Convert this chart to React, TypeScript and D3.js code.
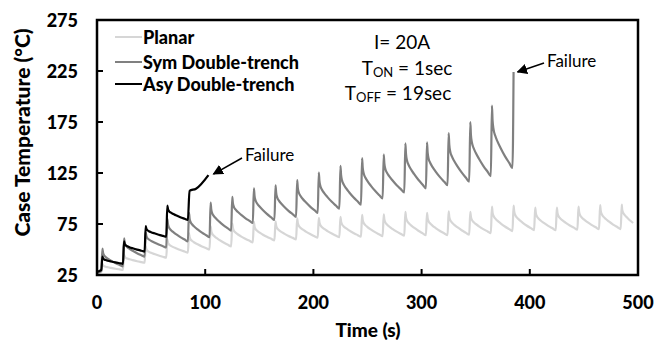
import React from "react";
import * as d3 from "d3";

// Canvas and plot frame
const W = 654;
const H = 341;
const plot = { left: 97, right: 638, top: 20, bottom: 275 };

// Axes
const xTicks = [0, 100, 200, 300, 400, 500];
const yTicks = [25, 75, 125, 175, 225, 275];

// Pulse timing (s): first pulse and repetition period (TON + TOFF)
const firstPulse = 5;
const pulsePeriod = 20;

// Shape of one cooling stretch: seconds after the peak, and share of the
// peak-to-trough excess still left at that moment
const decayOffsets = [0, 0.6, 1.5, 3, 5, 8, 12, 16, 19];
const decayShare = [1, 0.76, 0.62, 0.52, 0.43, 0.32, 0.19, 0.08, 0];

// Planar: peak per pulse, trough before the next pulse, and the last sample
const planarStart = [27, 28];
const planarPeaks = [36, 45, 53, 60, 66, 73, 75.5, 77, 77.5, 80.5, 81, 82, 84, 84.5, 87, 86, 87.5, 87, 92, 93, 91, 91, 92, 93.5, 94];
const planarTroughs = [30, 37, 42, 47, 50, 53, 57, 59, 60, 61.5, 62, 62.5, 63, 63.5, 64, 64, 64.5, 66, 68, 69, 69, 69.5, 70, 70];
const planarEnd = [495.5, 76];

// Symmetric double-trench: fails on its last pulse
const symStart = [27, 29];
const symPeaks = [51, 61, 67, 80, 86, 96, 101.5, 110, 113, 118, 125.5, 132, 139.5, 143, 154, 155, 164, 175, 191, 224];
const symTroughs = [33.5, 43, 52, 58, 62, 68.5, 76, 79, 82, 86, 90, 94, 100, 106, 110, 113, 116.5, 122, 130];

// Asymmetric double-trench: four normal pulses, then the failure run-away
const asyStart = [28, 30];
const asyPeaks = [43, 58, 73, 93];
const asyTroughs = [36, 48, 62.5, 79];
const asyFailureTimes = [85.5, 91.5, 103];
const asyFailureTemps = [107.5, 109.6, 123];

type Pt = [number, number];

function buildSeries(start: number[], peaks: number[], troughs: number[]): Pt[] {
  const pts: Pt[] = [[0, start[0]], [firstPulse - 1, start[1]]];
  peaks.forEach((peak, i) => {
    const tp = firstPulse + i * pulsePeriod;
    pts.push([tp, peak]);
    if (i < troughs.length) {
      const low = troughs[i];
      decayOffsets.forEach((off, j) => {
        if (j === 0) return;
        pts.push([tp + off, low + (peak - low) * decayShare[j]]);
      });
    }
  });
  return pts;
}

const planarPts: Pt[] = (() => {
  const pts = buildSeries(planarStart, planarPeaks, planarTroughs);
  const lastPeak = planarPeaks[planarPeaks.length - 1];
  const tp = firstPulse + (planarPeaks.length - 1) * pulsePeriod;
  const span = planarEnd[0] - tp;
  decayOffsets.forEach((off, j) => {
    if (j === 0) return;
    pts.push([tp + (off / 19) * span, planarEnd[1] + (lastPeak - planarEnd[1]) * decayShare[j]]);
  });
  return pts;
})();

const symPts: Pt[] = buildSeries(symStart, symPeaks, symTroughs);

const asyPts: Pt[] = (() => {
  const pts = buildSeries(asyStart, asyPeaks, asyTroughs);
  asyFailureTimes.forEach((t, i) => pts.push([t, asyFailureTemps[i]]));
  return pts;
})();

const seriesNames = ["Planar", "Sym Double-trench", "Asy Double-trench"];
const seriesColors = ["#d6d6d6", "#808080", "#000000"];

export default function App() {
  const x = d3.scaleLinear().domain([0, 500]).range([plot.left, plot.right]);
  const y = d3.scaleLinear().domain([25, 275]).range([plot.bottom, plot.top]);
  const line = d3
    .line<Pt>()
    .x((d) => x(d[0]))
    .y((d) => y(d[1]))
    .curve(d3.curveMonotoneX);

  const allPts = [planarPts, symPts, asyPts];
  const fontStack = "Lato, 'Open Sans', sans-serif";

  const symFail: Pt = [firstPulse + (symPeaks.length - 1) * pulsePeriod, symPeaks[symPeaks.length - 1]];
  const asyFail: Pt = [asyFailureTimes[asyFailureTimes.length - 1], asyFailureTemps[asyFailureTemps.length - 1]];

  return (
    <svg
      width={W}
      height={H}
      style={{ position: "absolute", left: 0, top: 0, background: "#fff" }}
      fontFamily={fontStack}
    >
      <defs>
        <marker id="arrowHead" viewBox="0 0 10 10" refX="9" refY="5" markerWidth="7" markerHeight="7" orient="auto">
          <path d="M0,0 L10,5 L0,10 Z" fill="#000" />
        </marker>
      </defs>
      <rect x={0} y={0} width={W} height={H} fill="#fff" />

      {/* series */}
      {allPts.map((pts, i) => (
        <path key={i} d={line(pts) || ""} fill="none" stroke={seriesColors[i]} strokeWidth={2.2} strokeLinejoin="round" />
      ))}

      {/* frame */}
      <rect
        x={plot.left}
        y={plot.top}
        width={plot.right - plot.left}
        height={plot.bottom - plot.top}
        fill="none"
        stroke="#000"
        strokeWidth={2.5}
      />

      {/* x ticks (inward) and labels */}
      {xTicks.map((t) => (
        <g key={"x" + t}>
          {t > 0 && t < 500 && <line x1={x(t)} x2={x(t)} y1={plot.bottom} y2={plot.bottom - 6} stroke="#000" strokeWidth={2} />}
          <text x={x(t)} y={302} textAnchor="middle" dominantBaseline="central" fontSize={18} fontWeight={900}>
            {t}
          </text>
        </g>
      ))}

      {/* y ticks (inward) and labels */}
      {yTicks.map((t) => (
        <g key={"y" + t}>
          {t > 25 && t < 275 && <line x1={plot.left} x2={plot.left + 6} y1={y(t)} y2={y(t)} stroke="#000" strokeWidth={2} />}
          <text x={78} y={y(t)} textAnchor="end" dominantBaseline="central" fontSize={18} fontWeight={900}>
            {t}
          </text>
        </g>
      ))}

      {/* axis titles */}
      <text x={368} y={329} textAnchor="middle" dominantBaseline="central" fontSize={19} fontWeight={900}>
        Time (s)
      </text>
      <text
        transform={`translate(21,${(plot.top + plot.bottom) / 2 - 15}) rotate(-90)`}
        textAnchor="middle"
        dominantBaseline="central"
        fontSize={21}
        fontWeight={900}
      >
        Case Temperature (°C)
      </text>

      {/* legend */}
      {seriesNames.map((name, i) => {
        const ly = [37, 62, 84][i];
        return (
          <g key={name}>
            <line x1={115} x2={142} y1={ly} y2={ly} stroke={seriesColors[i]} strokeWidth={2} />
            <text x={143} y={ly} dominantBaseline="central" fontSize={18} fontWeight={900}>
              {name}
            </text>
          </g>
        );
      })}

      {/* test conditions */}
      <g fontSize={19} textAnchor="middle">
        <text x={402} y={41} dominantBaseline="central">I= 20A</text>
        <text x={407} y={67} dominantBaseline="central">
          T<tspan fontSize={13} dy={5}>ON</tspan>
          <tspan dy={-5}> = 1sec</tspan>
        </text>
        <text x={398} y={92} dominantBaseline="central">
          T<tspan fontSize={13} dy={5}>OFF</tspan>
          <tspan dy={-5}> = 19sec</tspan>
        </text>
      </g>

      {/* failure callouts */}
      <text x={245} y={154} dominantBaseline="central" fontSize={17}>
        Failure
      </text>
      <line
        x1={242}
        y1={158}
        x2={x(asyFail[0]) + 5}
        y2={y(asyFail[1]) - 1}
        stroke="#000"
        strokeWidth={1.5}
        markerEnd="url(#arrowHead)"
      />
      <text x={547} y={60} dominantBaseline="central" fontSize={17}>
        Failure
      </text>
      <line
        x1={544}
        y1={63}
        x2={x(symFail[0]) + 4}
        y2={y(symFail[1])}
        stroke="#000"
        strokeWidth={1.5}
        markerEnd="url(#arrowHead)"
      />
    </svg>
  );
}
